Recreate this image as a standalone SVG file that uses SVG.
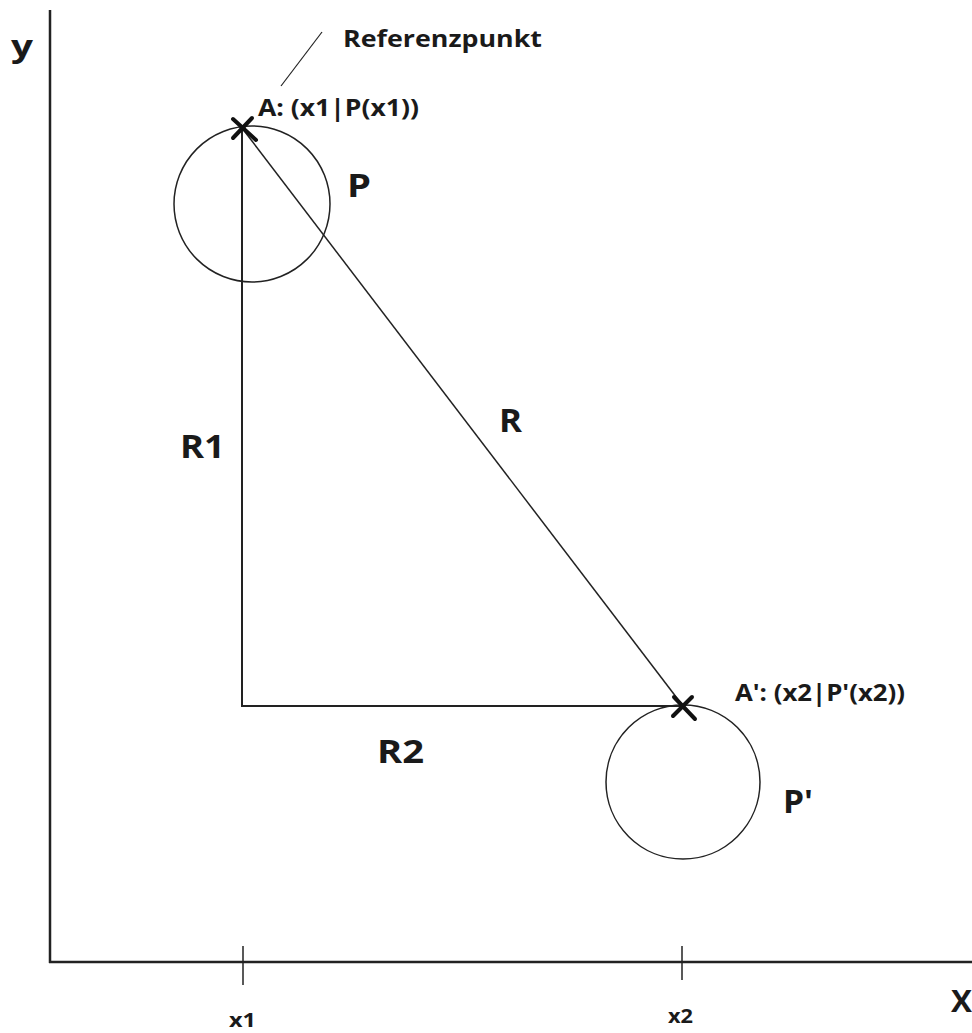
<svg xmlns="http://www.w3.org/2000/svg" width="972" height="1033" viewBox="0 0 972 1033">
<style>
.t{font-family:"Open Sans","Liberation Sans",sans-serif;font-weight:bold;fill:#1a1a1a}
.ln{stroke:#222;fill:none}
.cr{stroke:#111;stroke-width:4;stroke-linecap:round}
</style>
<rect width="972" height="1033" fill="#fff"/>
<g id="axes">
<line class="ln" x1="50" y1="10" x2="50" y2="963" stroke-width="2.5"/>
<line class="ln" x1="49" y1="962" x2="972" y2="962" stroke-width="2.5"/>
<line class="ln" x1="243" y1="946" x2="243" y2="985" stroke-width="1.5"/>
<line class="ln" x1="682" y1="946" x2="682" y2="980" stroke-width="1.5"/>
<text class="t" x="11" y="57" font-size="30" textLength="22" lengthAdjust="spacingAndGlyphs">y</text>
<text class="t" x="951" y="1012" font-size="30" textLength="21" lengthAdjust="spacingAndGlyphs">X</text>
<text class="t" x="229" y="1027" font-size="20" textLength="27" lengthAdjust="spacingAndGlyphs">x1</text>
<text class="t" x="668" y="1023" font-size="20" textLength="25" lengthAdjust="spacingAndGlyphs">x2</text>
</g>
<g id="connectors">
<line class="ln" x1="242" y1="128" x2="683" y2="706" stroke-width="1.5"/>
<line class="ln" x1="242" y1="128" x2="242" y2="707" stroke-width="2"/>
<line class="ln" x1="241" y1="706" x2="683" y2="706" stroke-width="2"/>
<line class="ln" x1="322" y1="32" x2="281" y2="86" stroke-width="1.2"/>
</g>
<g id="circleP">
<circle class="ln" cx="252" cy="204" r="78" stroke-width="1.5"/>
<text class="t" x="347" y="197" font-size="32" textLength="24" lengthAdjust="spacingAndGlyphs">P</text>
</g>
<g id="circlePprime">
<circle class="ln" cx="683" cy="782" r="77" stroke-width="1.5"/>
<text class="t" x="783" y="813" font-size="32" textLength="30" lengthAdjust="spacingAndGlyphs">P'</text>
</g>
<g id="pointA">
<line class="cr" x1="233" y1="119" x2="256" y2="140"/>
<line class="cr" x1="252" y1="118" x2="233" y2="138"/>
<text class="t" x="258" y="116" font-size="23" textLength="161" lengthAdjust="spacingAndGlyphs">A: (x1|P(x1))</text>
</g>
<g id="pointAprime">
<line class="cr" x1="674" y1="697" x2="695" y2="719"/>
<line class="cr" x1="692" y1="697" x2="673" y2="716"/>
<text class="t" x="735" y="701" font-size="23" textLength="170" lengthAdjust="spacingAndGlyphs">A': (x2|P'(x2))</text>
</g>
<g id="ref">
<text class="t" x="343" y="47" font-size="24" textLength="199" lengthAdjust="spacingAndGlyphs">Referenzpunkt</text>
</g>
<g id="labels">
<text class="t" x="499" y="432" font-size="33" textLength="23" lengthAdjust="spacingAndGlyphs">R</text>
<text class="t" x="180" y="458" font-size="33" textLength="45" lengthAdjust="spacingAndGlyphs">R1</text>
<text class="t" x="377" y="763" font-size="33" textLength="47" lengthAdjust="spacingAndGlyphs">R2</text>
</g>
</svg>
